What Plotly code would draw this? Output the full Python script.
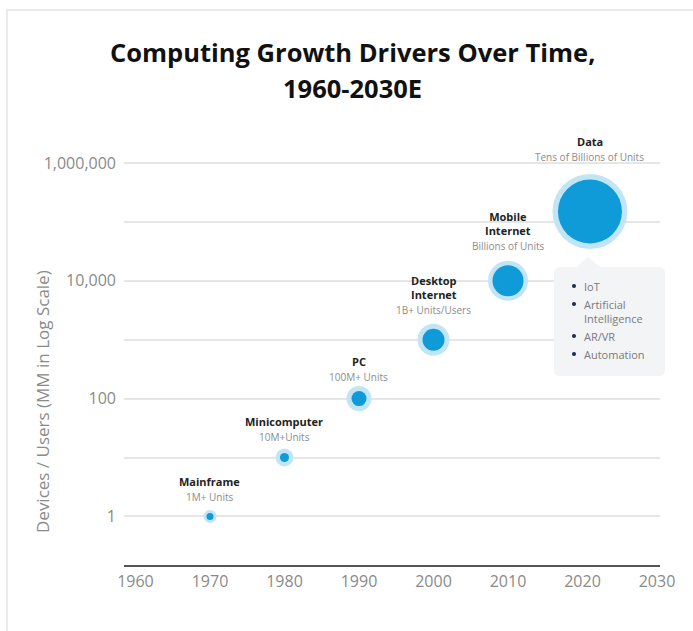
import math
import plotly.graph_objects as go

# ---------------- data ----------------
years = [1970, 1980, 1990, 2000, 2010, 2021]
units_mm = [1, 10, 100, 1000, 10000, 150000]
era_labels = ["Mainframe", "Minicomputer", "PC", "Desktop<br>Internet", "Mobile<br>Internet", "Data"]
era_sublabels = ["1M+ Units", "10M+Units", "100M+ Units", "1B+ Units/Users",
                 "Billions of Units", "Tens of Billions of Units"]
x_tickvals = [1960, 1970, 1980, 1990, 2000, 2010, 2020, 2030]
y_tickvals = [1, 100, 10000, 1000000]
y_ticktext = ["1", "100", "10,000", "1,000,000"]
y_minor_vals = [10, 1000, 100000]
callout_items = ["IoT", "Artificial<br>Intelligence", "AR/VR", "Automation"]

# ---------------- style ----------------
W, H = 693, 631
L, R, T, B = 124, 660, 140, 565
FONT = "Open Sans"
core_size = [7, 9, 15, 22, 31, 64]
halo_size = [13, 18, 25, 32, 40, 75]
label_gap = [19, 21, 22, 30, 35, 55]
CORE = "#0f9ad8"
HALO = "#c2e5f5"
GRID = "#e6e6e6"
TICK = "#8a8a8a"


def px(x):
    return (x - L) / (R - L)


def py(y):
    return (B - y) / (B - T)


fig = go.Figure()
fig.add_trace(go.Scatter(x=years, y=units_mm, mode="markers",
                         marker=dict(size=halo_size, color=HALO, opacity=1, line=dict(width=0)),
                         hoverinfo="skip", showlegend=False, cliponaxis=False))
fig.add_trace(go.Scatter(x=years, y=units_mm, mode="markers",
                         marker=dict(size=core_size, color=CORE, opacity=1, line=dict(width=0)),
                         showlegend=False, cliponaxis=False))

annotations = []
for xv, yv, lab, sub, gap in zip(years, units_mm, era_labels, era_sublabels, label_gap):
    ly = math.log10(yv)
    annotations.append(dict(x=xv, y=ly, xref="x", yref="y", text=sub, showarrow=False,
                            yanchor="middle", yshift=gap,
                            font=dict(family=FONT, size=10, color="#8c8c8c")))
    annotations.append(dict(x=xv, y=ly, xref="x", yref="y", text=lab, showarrow=False,
                            yanchor="bottom", yshift=gap + 6,
                            font=dict(family=FONT, size=11, color="#222222", weight="bold")))

# title
annotations.append(dict(x=px(352), y=py(52), xref="paper", yref="paper",
                        text="Computing Growth Drivers Over Time,", showarrow=False,
                        xanchor="center", yanchor="middle",
                        font=dict(family=FONT, size=25.5, color="#111111", weight="bold")))
annotations.append(dict(x=px(352), y=py(88), xref="paper", yref="paper",
                        text="1960-2030E", showarrow=False,
                        xanchor="center", yanchor="middle",
                        font=dict(family=FONT, size=25.5, color="#111111", weight="bold")))
# y axis title
annotations.append(dict(x=px(42), y=py(402), xref="paper", yref="paper",
                        text="Devices / Users (MM in Log Scale)", showarrow=False,
                        textangle=-90, xanchor="center", yanchor="middle",
                        font=dict(family=FONT, size=17, color=TICK)))

shapes = []
# card frame
shapes.append(dict(type="rect", xref="paper", yref="paper",
                   x0=px(7), y0=py(10), x1=px(720), y1=py(680),
                   line=dict(color="#e4e4e4", width=1.5), fillcolor="rgba(0,0,0,0)",
                   layer="below"))

# callout box with pointer
bx0, bx1, by0, by1, r = 554, 665, 267, 376, 6
tx0, tx1, tapx, tapy = 577, 600, 588, 257
pts = (f"M {px(bx0 + r)},{py(by0)} L {px(tx0)},{py(by0)} L {px(tapx)},{py(tapy)} "
       f"L {px(tx1)},{py(by0)} L {px(bx1 - r)},{py(by0)} "
       f"Q {px(bx1)},{py(by0)} {px(bx1)},{py(by0 + r)} "
       f"L {px(bx1)},{py(by1 - r)} Q {px(bx1)},{py(by1)} {px(bx1 - r)},{py(by1)} "
       f"L {px(bx0 + r)},{py(by1)} Q {px(bx0)},{py(by1)} {px(bx0)},{py(by1 - r)} "
       f"L {px(bx0)},{py(by0 + r)} Q {px(bx0)},{py(by0)} {px(bx0 + r)},{py(by0)} Z")
shapes.append(dict(type="path", xref="paper", yref="paper", path=pts,
                   fillcolor="#f3f4f6", line=dict(width=0), layer="above"))

yline = 286
for item in callout_items:
    nlines = item.count("<br>") + 1
    shapes.append(dict(type="circle", xref="paper", yref="paper",
                       x0=px(572), x1=px(576), y0=py(yline - 2), y1=py(yline + 2),
                       fillcolor="#1b2a4e", line=dict(width=0), layer="above"))
    annotations.append(dict(x=px(582), y=py(yline - 9.5), xref="paper", yref="paper",
                            text=item, showarrow=False, xanchor="left", yanchor="top",
                            align="left",
                            font=dict(family=FONT, size=11, color="#7a7a7a")))
    yline += 18 + 14 * (nlines - 1)

fig.update_layout(
    width=W, height=H,
    margin=dict(l=L, r=W - R, t=T, b=H - B),
    paper_bgcolor="white", plot_bgcolor="white",
    font=dict(family=FONT, color=TICK),
    annotations=annotations, shapes=shapes,
    xaxis=dict(range=[1958.46, 2030.4], tickvals=x_tickvals, showgrid=False,
               zeroline=False, showline=True, linecolor="#555555", linewidth=1.5,
               ticks="", ticklabelstandoff=1,
               tickfont=dict(family=FONT, size=16, color=TICK)),
    yaxis=dict(type="log", range=[-0.825, 6.39], tickvals=y_tickvals, ticktext=y_ticktext,
               showgrid=True, gridcolor=GRID, gridwidth=1.5, zeroline=False, showline=False,
               ticks="", ticklabelstandoff=7,
               tickfont=dict(family=FONT, size=16, color=TICK),
               minor=dict(tickvals=y_minor_vals, showgrid=True, gridcolor=GRID,
                          gridwidth=1.5, ticks="")),
)

fig.write_html("out.html", config={"displayModeBar": False},
               post_script="document.body.style.margin='0';document.body.style.padding='0';")
